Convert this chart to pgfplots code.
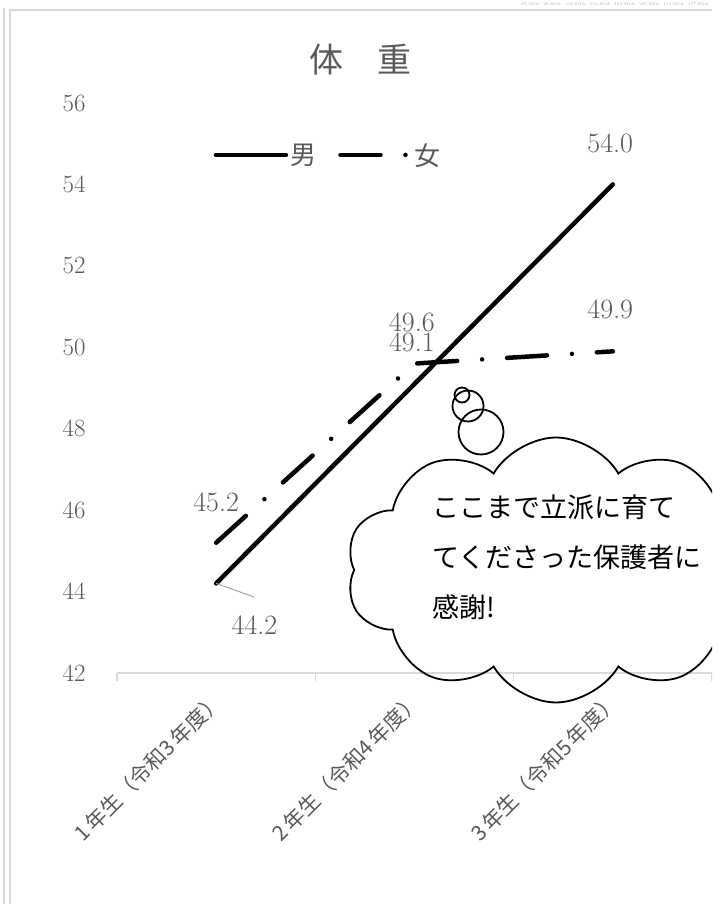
\documentclass[border=0pt]{standalone}
\usepackage{fontspec}
\usepackage{pgfplots}
\pgfplotsset{compat=1.18}
\usetikzlibrary{shapes.symbols}
\newfontfamily\jp{Noto Sans CJK JP}
\definecolor{txt}{HTML}{595959}
\definecolor{axg}{HTML}{D9D9D9}
\definecolor{lead}{HTML}{A6A6A6}
\newcommand{\xl}[2]{{\jp #1\,年生（令和#2\,年度）}}
\begin{document}
\begin{tikzpicture}[x=1pt,y=1pt]
\clip (0,0) rectangle (712,904);
\fill[white] (0,0) rectangle (712,904);
\draw[axg, line width=1.3pt] (4,0) -- (4,896);
\draw[axg, line width=1.3pt] (10,0) -- (10,894) -- (712,894);
\node[anchor=east, font=\fontsize{4}{4}\selectfont, text=lead] at (712,900)
  {87,5GA\quad 96,8GA\quad 116,8GA\quad 131,8GA\quad 153,8GA\quad 165,8GA\quad 171,8GA\quad 177,8GA};
\node[font=\jp\fontsize{34}{34}\selectfont, text=txt] at (360,844) {体　重};
\begin{axis}[
  at={(117pt,231pt)}, anchor=south west, scale only axis,
  width=595pt, height=570pt,
  xmin=-0.5, xmax=2.5, ymin=42, ymax=56,
  clip=false,
  axis x line*=bottom, axis y line*=left,
  y axis line style={draw=none},
  x axis line style={axg, line width=1.5pt, -},
  ytick={42,44,...,56},
  xtick={0,1,2},
  xticklabels={\xl{1}{3},\xl{2}{4},\xl{3}{5}},
  minor xtick={-0.5,0.5,1.5,2.5},
  major tick length=0pt,
  minor tick length=8pt,
  xtick align=outside,
  minor x tick style={axg, line width=1.5pt},
  yticklabel style={font=\fontsize{28}{28}\selectfont, text=txt, xshift=-28pt},
  xticklabel style={font=\fontsize{21}{21}\selectfont, text=txt, xshift=-5pt, yshift=-12pt, rotate=45, anchor=north east},
  legend style={at={(0.355,0.909)}, anchor=center, draw=none, fill=none,
     font=\jp\fontsize{26}{26}\selectfont, text=txt, legend columns=-1,
     /tikz/every even column/.append style={column sep=20pt}},
  legend image code/.code={\draw[#1] (0pt,0pt) -- (70pt,0pt);},
]
\addplot[black, line width=4.5pt, line cap=round, line join=round] coordinates {(0,44.2) (1,49.1) (2,54.0)};
\addlegendentry{男}
\addplot[black, line width=4.5pt, line cap=round, dash pattern=on 40pt off 25pt on 0pt off 25pt] coordinates {(0,45.2) (1,49.6) (2,49.9)};
\addlegendentry{女}
\draw[lead, line width=1pt] (axis cs:0,44.2) -- (axis cs:0.19,43.87);
\begin{scope}[every node/.style={font=\fontsize{28}{28}\selectfont, text=txt}]
\node at (axis cs:0.193,43.18) {44.2};
\node at (axis cs:0,46.2) {45.2};
\node at (axis cs:0.987,50.62) {49.6};
\node at (axis cs:0.987,50.13) {49.1};
\node at (axis cs:1.987,55.02) {54.0};
\node at (axis cs:1.987,50.94) {49.9};
\end{scope}
\end{axis}
\node[cloud, draw=black, line width=1.8pt, cloud puffs=10, cloud puff arc=120,
  minimum width=420pt, minimum height=265pt] at (556,334) {};
\draw[black, line width=1.8pt] (462,509) circle (7.5);
\draw[black, line width=1.8pt] (468,498) circle (15.5);
\draw[black, line width=1.8pt] (481,472) circle (22.5);
\begin{scope}[every node/.style={anchor=base west, font=\jp\fontsize{27}{27}\selectfont, text=black, inner sep=0pt}]
\node at (432,386) {ここまで立派に育て};
\node at (432,336) {てくださった保護者に};
\node at (432,286) {感謝!};
\end{scope}
\end{tikzpicture}
\end{document}
